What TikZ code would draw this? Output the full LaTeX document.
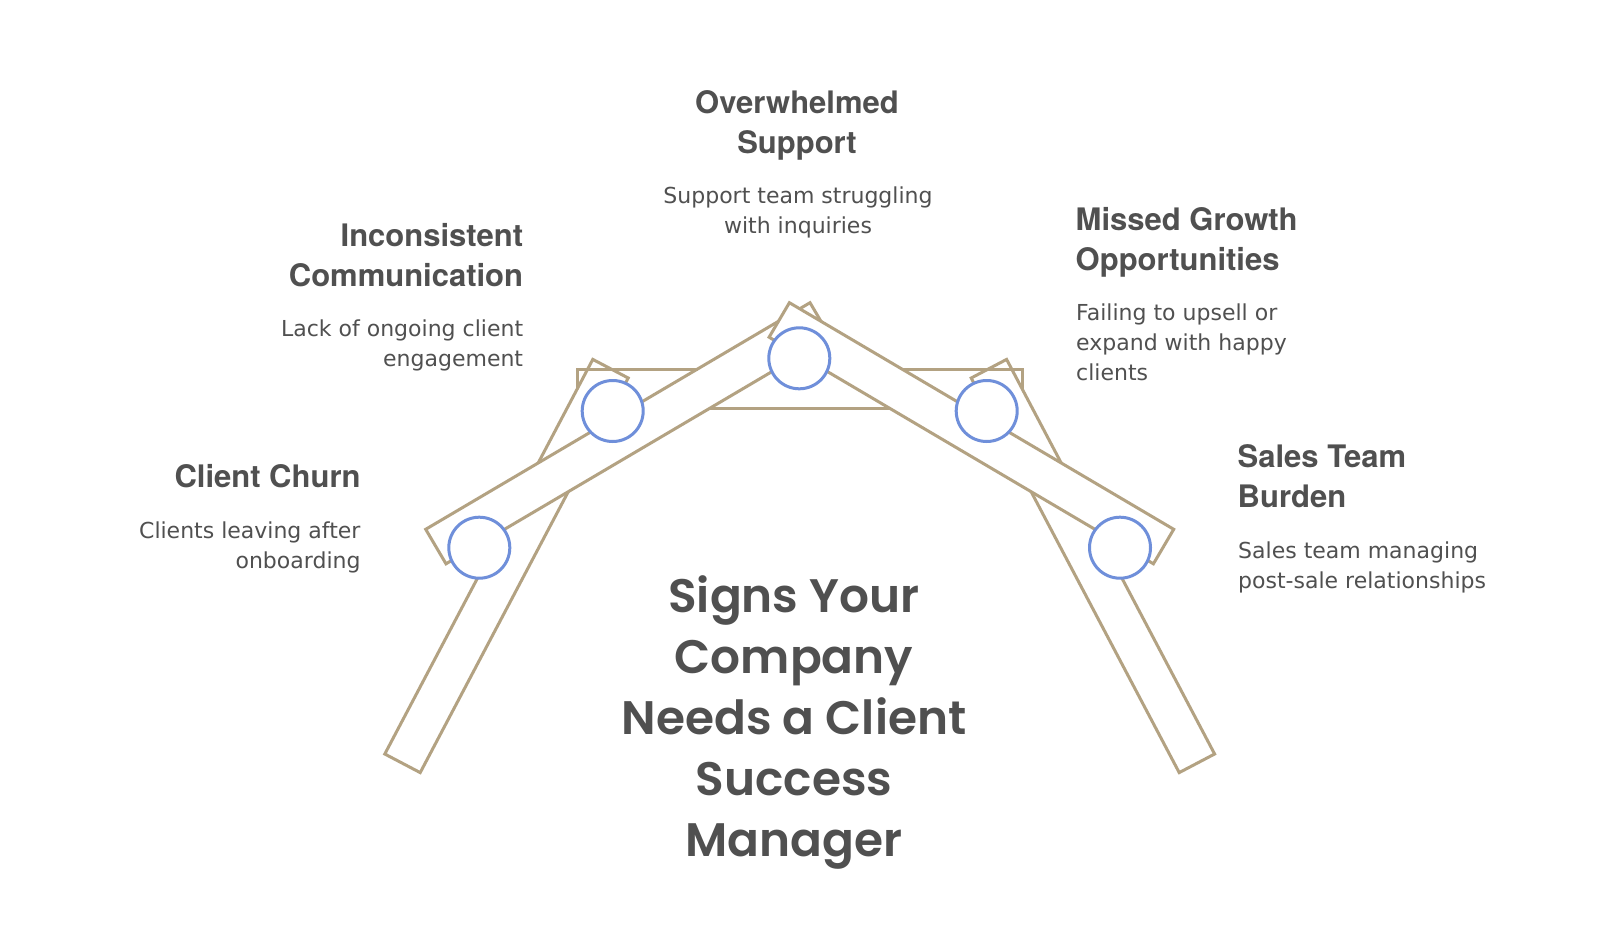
\documentclass[tikz,border=0pt]{standalone}
\usepackage{fontspec}
\newfontfamily\headfont{TeX Gyre Heros}
\newfontfamily\descfont{DejaVu Sans}
\newfontfamily\titlefont{Poppins SemiBold}
\definecolor{tan}{HTML}{B3A282}
\definecolor{ring}{HTML}{6F8FDA}
\definecolor{ink}{HTML}{505050}
\begin{document}
\begin{tikzpicture}[x=1pt,y=-1pt,
  bar/.style={draw=tan, line width=3pt, fill=white, line join=miter},
  barline/.style={draw=tan, line width=3pt},
  joint/.style={circle, draw=ring, line width=3pt, fill=white, minimum size=61pt, inner sep=0pt},
  head/.style={font=\headfont\bfseries\fontsize{31}{40}\selectfont, text=ink, inner sep=0pt},
  desc/.style={font=\descfont\fontsize{22}{30}\selectfont, text=ink, inner sep=0pt},
  title/.style={font=\titlefont\fontsize{47}{61}\selectfont, text=ink, inner sep=0pt, align=center}]
\fill[white] (0,0) rectangle (1600,950);
\useasboundingbox (0,0) rectangle (1600,950);
% beam
\draw[bar] (577,369) rectangle (1022.4,408);
% legs
\draw[bar] (592.8,359.4) -- (628.2,378.0) -- (420.2,772.6) -- (384.8,754.0) -- cycle;
\draw[bar] (1006.6,359.4) -- (971.2,378.0) -- (1179.2,772.6) -- (1214.6,754.0) -- cycle;
% crossbars
\draw[bar] (425.7,529.3) -- (810,302.7) -- (830.3,337.2) -- (446,563.8) -- cycle;
\draw[bar] (1173.7,529.3) -- (789.4,302.7) -- (769.1,337.2) -- (1153.4,563.8) -- cycle;
% beam top edge over the legs
\draw[barline] (577,389) -- (577,369) -- (697.5,369);
\draw[barline] (1022.4,389) -- (1022.4,369) -- (901.9,369);
% joints
\node[joint] (j1) at (479.3,547.7) {};
\node[joint] (j2) at (612.7,411) {};
\node[joint] (j3) at (799.3,358.3) {};
\node[joint] (j4) at (986.7,411) {};
\node[joint] (j5) at (1120,547.7) {};
% labels (anchor = baseline of the last line)
\node[head, anchor=base, align=center] (h3) at (797,153.3) {Overwhelmed\\Support};
\node[desc, anchor=base, align=center] (d3) at (798,233.3) {Support team struggling\\with inquiries};
\node[head, anchor=base east, align=right] (h2) at (523.3,286) {Inconsistent\\Communication};
\node[desc, anchor=base east, align=right] (d2) at (523.3,366) {Lack of ongoing client\\engagement};
\node[head, anchor=base east, align=right] (h1) at (360.7,487.3) {Client Churn};
\node[desc, anchor=base east, align=right] (d1) at (360.7,568.3) {Clients leaving after\\onboarding};
\node[head, anchor=base west, align=left] (h4) at (1075.5,270) {Missed Growth\\Opportunities};
\node[desc, anchor=base west, align=left] (d4) at (1076,380.7) {Failing to upsell or\\expand with happy\\clients};
\node[head, anchor=base west, align=left] (h5) at (1237.5,507.7) {Sales Team\\Burden};
\node[desc, anchor=base west, align=left] (d5) at (1238,588.3) {Sales team managing\\post-sale relationships};
\node[title, anchor=base] (t) at (794,856.7) {Signs Your\\Company\\Needs a Client\\Success\\Manager};
\end{tikzpicture}
\end{document}
